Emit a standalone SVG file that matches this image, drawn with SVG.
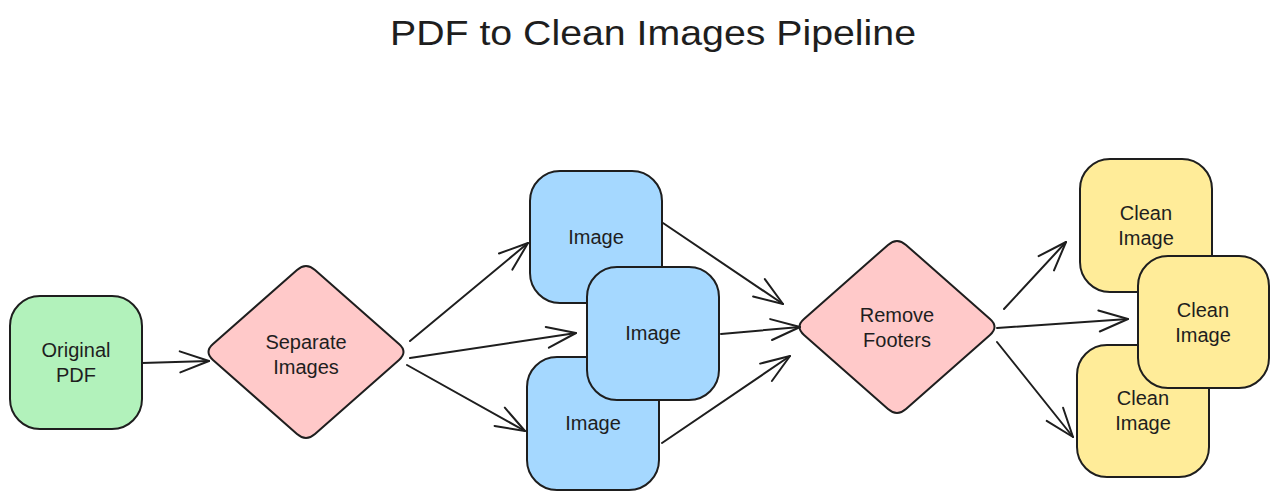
<svg xmlns="http://www.w3.org/2000/svg" width="1279" height="498" viewBox="0 0 1279 498">
<style>
.box{stroke:#1e1e1e;stroke-width:2;stroke-linejoin:round}
.g{fill:#b2f2bb}.p{fill:#ffc9c9}.b{fill:#a5d8ff}.y{fill:#ffec99}
text{font-family:"Liberation Sans","Noto Sans",sans-serif;fill:#1e1e1e;text-anchor:middle;dominant-baseline:central}
.lbl{font-size:20px}
.title{font-size:35px}
.edge{stroke:#1e1e1e;stroke-width:2;fill:none;stroke-linecap:round;marker-end:url(#ah)}
</style>
<defs>
<marker id="ah" markerUnits="userSpaceOnUse" viewBox="-31 -13 34 26" markerWidth="34" markerHeight="26" refX="0" refY="0" orient="auto">
<path d="M -29 -10.5 L 0 0 L -29 10.5" fill="none" stroke="#1e1e1e" stroke-width="2" stroke-linecap="round" stroke-linejoin="round"/>
</marker>
<path id="dia" d="M -93 -7.9 L -9 -82.1 Q 0 -90 9 -82.1 L 93 -7.9 Q 102 0 93 7.9 L 9 82.1 Q 0 90 -9 82.1 L -93 7.9 Q -102 0 -93 -7.9 Z"/>
</defs>
<rect width="1279" height="498" fill="#ffffff"/>
<text class="title" x="653" y="32" textLength="526" lengthAdjust="spacingAndGlyphs">PDF to Clean Images Pipeline</text>

<g id="original-pdf">
<rect class="box g" x="10" y="296" width="132" height="133" rx="30"/>
<text class="lbl" x="76" y="350">Original</text>
<text class="lbl" x="76" y="375">PDF</text>
</g>
<g id="separate-images">
<use href="#dia" class="box p" transform="translate(306 352)"/>
<text class="lbl" x="306" y="342">Separate</text>
<text class="lbl" x="306" y="367">Images</text>
</g>
<g id="image-1">
<rect class="box b" x="530" y="171" width="132" height="132" rx="30"/>
<text class="lbl" x="596" y="237">Image</text>
</g>
<g id="image-3">
<rect class="box b" x="527" y="357" width="132" height="133" rx="30"/>
<text class="lbl" x="593" y="423">Image</text>
</g>
<g id="image-2">
<rect class="box b" x="587" y="267" width="132" height="133" rx="30"/>
<text class="lbl" x="653" y="333">Image</text>
</g>
<g id="remove-footers">
<use href="#dia" class="box p" transform="translate(897 327)"/>
<text class="lbl" x="897" y="315">Remove</text>
<text class="lbl" x="897" y="340">Footers</text>
</g>
<g id="clean-image-1">
<rect class="box y" x="1080" y="159" width="132" height="133" rx="30"/>
<text class="lbl" x="1146" y="213">Clean</text>
<text class="lbl" x="1146" y="238">Image</text>
</g>
<g id="clean-image-3">
<rect class="box y" x="1077" y="345" width="132" height="132" rx="30"/>
<text class="lbl" x="1143" y="398">Clean</text>
<text class="lbl" x="1143" y="423">Image</text>
</g>
<g id="clean-image-2">
<rect class="box y" x="1138" y="256" width="131" height="132" rx="30"/>
<text class="lbl" x="1203" y="310">Clean</text>
<text class="lbl" x="1203" y="335">Image</text>
</g>

<g id="connectors">
<path class="edge" d="M 142 363 L 209 361"/>
<path class="edge" d="M 410 341 L 528 243"/>
<path class="edge" d="M 410 358 L 576 333"/>
<path class="edge" d="M 407 365 L 525 431"/>
<path class="edge" d="M 663 223 L 783 304"/>
<path class="edge" d="M 721 334 L 800 327"/>
<path class="edge" d="M 662 443 L 790 356"/>
<path class="edge" d="M 1004 309 L 1066 242"/>
<path class="edge" d="M 997 328 L 1128 319"/>
<path class="edge" d="M 997 342 L 1073 437"/>
</g>
</svg>
